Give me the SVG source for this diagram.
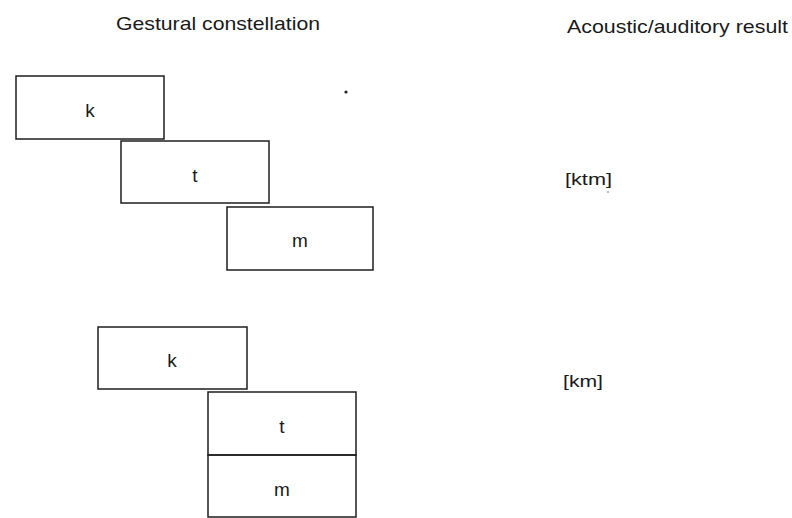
<svg xmlns="http://www.w3.org/2000/svg" width="792" height="518" viewBox="0 0 792 518">
<style>
.box{fill:none;stroke:#1e1e1e;stroke-width:1.5}
.t{font-family:"Liberation Sans",Arial,sans-serif;fill:#1a1a1a}
.h{font-size:19px}
.l{font-size:19px;text-anchor:middle}
</style>
<rect width="792" height="518" fill="#fff"/>
<g id="headers">
<text class="t h" x="116" y="30" textLength="204" lengthAdjust="spacingAndGlyphs">Gestural constellation</text>
<text class="t h" x="567" y="33" textLength="221" lengthAdjust="spacingAndGlyphs">Acoustic/auditory result</text>
</g>
<g id="k1"><rect class="box" x="16" y="76" width="148" height="63"/><text class="t l" x="90" y="117">k</text></g>
<g id="t1"><rect class="box" x="121" y="141" width="148" height="62"/><text class="t l" x="195" y="182">t</text></g>
<g id="m1"><rect class="box" x="227" y="207" width="146" height="63"/><text class="t l" x="300" y="247">m</text></g>
<g id="k2"><rect class="box" x="98" y="327" width="149" height="62"/><text class="t l" x="172" y="367">k</text></g>
<g id="t2"><rect class="box" x="208" y="392" width="148" height="63"/><text class="t l" x="282" y="433">t</text></g>
<g id="m2"><rect class="box" x="208" y="455" width="148" height="62"/><text class="t l" x="282" y="496">m</text></g>
<g id="results">
<text class="t" font-size="17" x="565" y="185" textLength="47" lengthAdjust="spacingAndGlyphs">[ktm]</text>
<text class="t" font-size="17" x="563" y="387" textLength="40" lengthAdjust="spacingAndGlyphs">[km]</text>
</g>
<g id="connectors"></g>
<circle cx="346" cy="92" r="1.6" fill="#222"/>
<circle cx="608" cy="192" r="0.7" fill="#444"/>
</svg>
